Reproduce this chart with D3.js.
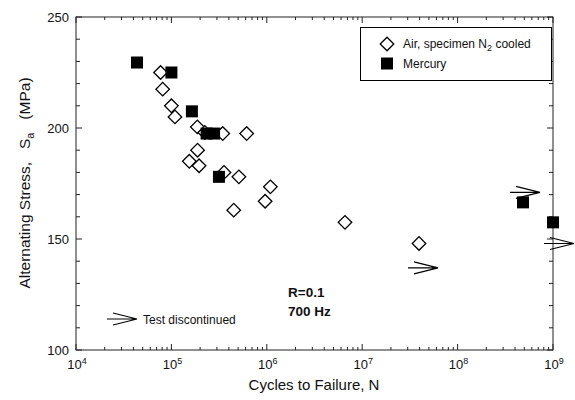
<!DOCTYPE html>
<html>
<head>
<meta charset="utf-8">
<script src="https://cdn.jsdelivr.net/npm/d3@7"></script>
<style>
  html, body { margin: 0; padding: 0; background: #fff; }
  svg { display: block; font-family: "Liberation Sans", Arial, Helvetica, sans-serif; }
</style>
</head>
<body>
<svg id="chart" width="575" height="400"></svg>
<script>
// Fatigue data: cycles to failure vs. alternating stress (MPa)
const airCycles = [7.7e4, 8.1e4, 1.0e5, 1.09e5, 1.87e5, 2.24e5, 3.45e5, 6.15e5, 1.88e5,
                   1.54e5, 1.95e5, 3.56e5, 5.1e5, 1.09e6, 9.6e5, 4.5e5, 6.6e6, 3.94e7];
const airStress = [225, 217.5, 210, 205, 200.5, 198, 197.5, 197.5, 190,
                   185, 183, 180, 178, 173.5, 167, 163, 157.5, 148];

const mercuryCycles = [4.36e4, 1.0e5, 1.64e5, 2.34e5, 2.8e5, 3.15e5, 4.85e8, 1.0e9];
const mercuryStress = [229.5, 225, 207.5, 197.5, 197.5, 178, 166.5, 157.5];

// Run-outs (test discontinued): arrow tail position
const runoutCycles = [3.54e8, 8.05e8, 3.02e7];
const runoutStress = [171, 148, 137];

const xTickExponents = [4, 5, 6, 7, 8, 9];
const yTickValues = [100, 150, 200, 250];

const svg = d3.select("#chart");
const plotL = 76, plotR = 553, plotT = 17, plotB = 350;

const x = d3.scaleLog().domain([1e4, 1e9]).range([plotL, plotR]);
const y = d3.scaleLinear().domain([100, 250]).range([plotB, plotT]);

// Minor/major tick values
const xMinor = [];
for (let e = 4; e < 9; e++) for (let m = 2; m <= 9; m++) xMinor.push(m * Math.pow(10, e));
const xMajor = xTickExponents.map(e => Math.pow(10, e));
const yMinor = d3.range(100, 251, 10).filter(v => v % 50 !== 0);

const axisColor = "#222";
const g = svg.append("g");

// Frame
g.append("rect").attr("x", plotL).attr("y", plotT)
  .attr("width", plotR - plotL).attr("height", plotB - plotT)
  .attr("fill", "none").attr("stroke", axisColor).attr("stroke-width", 1);

// Inward ticks on all four sides
function xTicks(vals, len) {
  vals.forEach(v => {
    const px = x(v);
    g.append("line").attr("x1", px).attr("x2", px).attr("y1", plotB).attr("y2", plotB - len)
      .attr("stroke", axisColor);
    g.append("line").attr("x1", px).attr("x2", px).attr("y1", plotT).attr("y2", plotT + len)
      .attr("stroke", axisColor);
  });
}
function yTicks(vals, len) {
  vals.forEach(v => {
    const py = y(v);
    g.append("line").attr("x1", plotL).attr("x2", plotL + len).attr("y1", py).attr("y2", py)
      .attr("stroke", axisColor);
    g.append("line").attr("x1", plotR).attr("x2", plotR - len).attr("y1", py).attr("y2", py)
      .attr("stroke", axisColor);
  });
}
xTicks(xMinor, 3);
xTicks(xMajor, 6);
yTicks(yMinor, 4);
yTicks(yTickValues, 6);

// Tick labels
yTickValues.forEach(v => {
  svg.append("text").attr("x", plotL - 7).attr("y", y(v) + 4.5)
    .attr("text-anchor", "end").attr("font-size", 13).attr("fill", "#111").text(v);
});
xTickExponents.forEach(e => {
  const t = svg.append("text").attr("x", x(Math.pow(10, e)) + 1).attr("y", plotB + 19)
    .attr("text-anchor", "middle").attr("font-size", 13).attr("fill", "#111");
  t.append("tspan").text("10");
  t.append("tspan").attr("dy", -5).attr("font-size", 9).text(e);
});

// Axis titles
svg.append("text").attr("x", 314).attr("y", 390)
  .attr("text-anchor", "middle").attr("font-size", 15).attr("fill", "#111")
  .text("Cycles to Failure, N");

const yt = svg.append("text")
  .attr("transform", `translate(30,183) rotate(-90)`)
  .attr("text-anchor", "middle").attr("font-size", 15.5).attr("fill", "#111")
  .attr("xml:space", "preserve");
yt.append("tspan").text("Alternating Stress,   S");
yt.append("tspan").attr("dy", 4).attr("font-size", 11).text("a");
yt.append("tspan").attr("dy", -4).text("   (MPa)");

// Markers
const diamond = d3.symbol().type(d3.symbolSquare).size(92);
function drawDiamond(sel, px, py) {
  sel.append("path").attr("d", diamond())
    .attr("transform", `translate(${px},${py}) rotate(45)`)
    .attr("fill", "#fff").attr("stroke", "#000").attr("stroke-width", 1.3);
}
function drawSquare(sel, px, py) {
  sel.append("rect").attr("x", px - 6).attr("y", py - 6)
    .attr("width", 12).attr("height", 12).attr("fill", "#000");
}
function drawArrow(sel, px, py) {
  sel.append("path")
    .attr("d", `M${px},${py} H${px + 30} M${px + 6},${py - 6} L${px + 30},${py} L${px + 6},${py + 6}`)
    .attr("fill", "none").attr("stroke", "#000").attr("stroke-width", 1.1);
}

const pts = svg.append("g");
airCycles.forEach((c, i) => drawDiamond(pts, x(c), y(airStress[i])));
mercuryCycles.forEach((c, i) => drawSquare(pts, x(c), y(mercuryStress[i])));
runoutCycles.forEach((c, i) => drawArrow(pts, x(c), y(runoutStress[i])));

// Legend
const lg = svg.append("g");
lg.append("rect").attr("x", 360.5).attr("y", 27.5).attr("width", 191).attr("height", 53)
  .attr("fill", "#fff").attr("stroke", "#000").attr("stroke-width", 1);
drawDiamond(lg, 387, 44);
const l1 = lg.append("text").attr("x", 403).attr("y", 48).attr("font-size", 12).attr("fill", "#111");
l1.append("tspan").text("Air, specimen N");
l1.append("tspan").attr("dy", 3).attr("font-size", 9).text("2");
l1.append("tspan").attr("dy", -3).text(" cooled");
drawSquare(lg, 387, 63.5);
lg.append("text").attr("x", 403).attr("y", 68).attr("font-size", 12).attr("fill", "#111").text("Mercury");

// Run-out key
drawArrow(svg, 107, 319);
svg.append("text").attr("x", 143).attr("y", 323.5).attr("font-size", 12).attr("fill", "#111")
  .text("Test discontinued");

// Test conditions
svg.append("text").attr("x", 288).attr("y", 297).attr("font-size", 13.5)
  .attr("font-weight", "bold").attr("fill", "#111").text("R=0.1");
svg.append("text").attr("x", 288).attr("y", 316).attr("font-size", 13.5)
  .attr("font-weight", "bold").attr("fill", "#111").text("700 Hz");
</script>
</body>
</html>
